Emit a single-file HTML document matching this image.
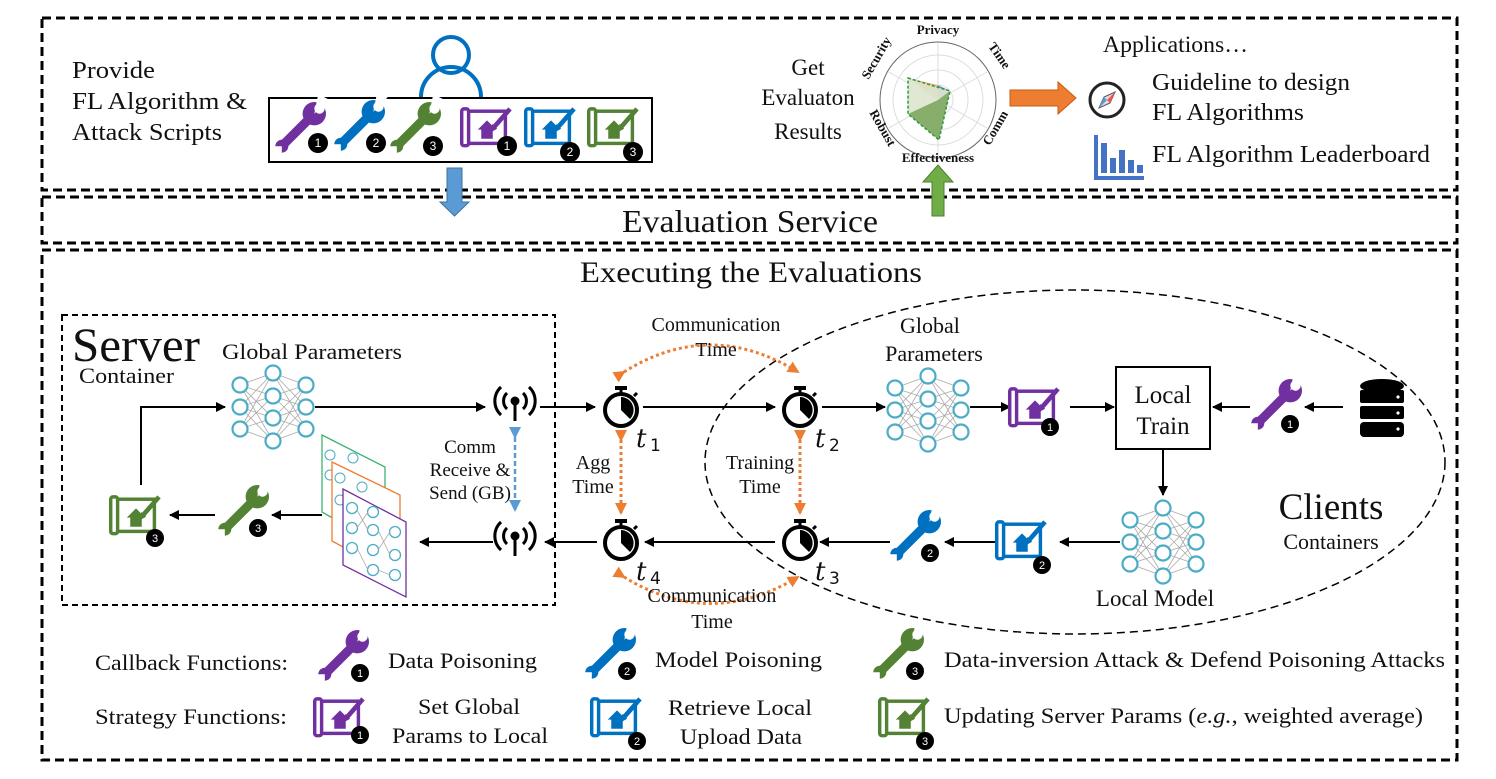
<!DOCTYPE html>
<html><head><meta charset="utf-8"><style>
html,body{margin:0;padding:0;background:#fff}
svg{display:block}
text{font-family:"Liberation Serif",serif;fill:#111}
</style></head><body>
<svg width="1496" height="779" viewBox="0 0 1496 779" xmlns="http://www.w3.org/2000/svg">
<defs>
<marker id="ah" markerWidth="10" markerHeight="10" refX="9" refY="5" orient="auto" markerUnits="userSpaceOnUse"><path d="M0,0 L10,5 L0,10 Z" fill="#000"/></marker>
<marker id="oh" markerWidth="12" markerHeight="12" refX="10" refY="6" orient="auto" markerUnits="userSpaceOnUse"><path d="M0,0 L12,6 L0,12 Z" fill="#ed7d31"/></marker>
<marker id="bh" markerWidth="12" markerHeight="12" refX="10" refY="6" orient="auto" markerUnits="userSpaceOnUse"><path d="M0,0 L12,6 L0,12 Z" fill="#5b9bd5"/></marker>
<g id="wrench0">
<line x1="-14" y1="14" x2="8" y2="-8" stroke="currentColor" stroke-width="7" stroke-linecap="round"/>
<circle cx="-14" cy="14" r="5" fill="currentColor"/>
<circle cx="11" cy="-11" r="9" fill="currentColor"/>
<path d="M11,-11 L22,-22 L14,-26 Z" fill="#fff"/>
<circle cx="15" cy="-15" r="4" fill="#fff"/>
<path d="M-22,14 L-14,14 L-14,22 Z" fill="#fff"/>
</g>
<g id="wrench"><use href="#wrench0" transform="scale(1.3)"/></g>
<g id="bp0" fill="none" stroke="currentColor">
<rect x="-18" y="-12" width="34" height="28" stroke-width="3"/>
<rect x="-22" y="-14" width="6" height="32" rx="2" stroke-width="3" fill="#fff"/>
<path d="M-8,4 L0,-4 L8,4 L5,4 L5,12 L-5,12 L-5,4 Z" fill="currentColor" stroke="none"/>
<line x1="6" y1="2" x2="20" y2="-14" stroke-width="4"/>
<path d="M3,6 L5,0 L8,3 Z" fill="currentColor"/>
</g>
<g id="bp"><use href="#bp0" transform="scale(1.15)"/></g>
<g id="nn">
<g stroke="#aaa" stroke-width="0.8">
<path d="M-33,-22 L0,-34 M-33,-22 L0,-11 M-33,-22 L0,11 M-33,-22 L0,34 M-33,0 L0,-34 M-33,0 L0,-11 M-33,0 L0,11 M-33,0 L0,34 M-33,22 L0,-34 M-33,22 L0,-11 M-33,22 L0,11 M-33,22 L0,34 M33,-22 L0,-34 M33,-22 L0,-11 M33,-22 L0,11 M33,-22 L0,34 M33,0 L0,-34 M33,0 L0,-11 M33,0 L0,11 M33,0 L0,34 M33,22 L0,-34 M33,22 L0,-11 M33,22 L0,11 M33,22 L0,34"/>
</g>
<g fill="#fff" stroke="#4bacc6" stroke-width="2.2">
<circle cx="-33" cy="-22" r="7.5"/><circle cx="-33" cy="0" r="7.5"/><circle cx="-33" cy="22" r="7.5"/>
<circle cx="33" cy="-22" r="7.5"/><circle cx="33" cy="0" r="7.5"/><circle cx="33" cy="22" r="7.5"/>
<circle cx="0" cy="-34" r="7.5"/><circle cx="0" cy="-11" r="7.5"/><circle cx="0" cy="11" r="7.5"/><circle cx="0" cy="34" r="7.5"/>
</g>
</g>
<g id="timer">
<rect x="-6" y="-24" width="12" height="4" fill="#000"/>
<line x1="0" y1="-20" x2="0" y2="-16" stroke="#000" stroke-width="3"/>
<line x1="13" y1="-14" x2="16" y2="-17" stroke="#000" stroke-width="3"/>
<circle cx="0" cy="0" r="16" fill="#fff" stroke="#000" stroke-width="4"/>
<path d="M0,0 L0,-13 A13,13 0 0 1 9,9 Z" fill="#000"/>
</g>
<g id="ant" fill="none" stroke="#000" stroke-width="3">
<circle cx="0" cy="-4" r="3" fill="#000"/>
<line x1="0" y1="-4" x2="0" y2="16"/>
<path d="M-8,-12 A11,11 0 0 0 -8,4 M8,-12 A11,11 0 0 1 8,4 M-14,-18 A19,19 0 0 0 -14,10 M14,-18 A19,19 0 0 1 14,10"/>
</g>
</defs>

<g fill="none" stroke="#000" stroke-width="3" stroke-dasharray="9,5">
<rect x="42" y="18" width="1415" height="172"/>
<rect x="42" y="197" width="1415" height="46"/>
<rect x="42" y="250" width="1415" height="510"/>
</g>

<text x="72" y="78" font-size="24" textLength="83" lengthAdjust="spacingAndGlyphs">Provide</text>
<text x="72" y="109" font-size="24" textLength="175" lengthAdjust="spacingAndGlyphs">FL Algorithm &amp;</text>
<text x="72" y="140" font-size="24" textLength="150" lengthAdjust="spacingAndGlyphs">Attack Scripts</text>
<circle cx="451" cy="55" r="18" fill="none" stroke="#0070c0" stroke-width="4"/>
<path d="M421,97 A30,30 0 0 1 481,97" fill="none" stroke="#0070c0" stroke-width="4"/>
<rect x="269" y="98" width="383" height="64" fill="#fff" stroke="#000" stroke-width="2"/>
<use href="#wrench" x="300" y="128" style="color:#7030a0"/>
<use href="#wrench" x="359" y="126" style="color:#0070c0"/>
<use href="#wrench" x="415" y="128" style="color:#548235"/>
<use href="#bp" x="487" y="125" style="color:#7030a0"/>
<use href="#bp" x="551" y="125" style="color:#0070c0"/>
<use href="#bp" x="614" y="125" style="color:#548235"/>
<g>
<circle cx="318" cy="143" r="10"/><circle cx="376" cy="143" r="10"/><circle cx="433" cy="146" r="10"/>
<circle cx="507" cy="146" r="10"/><circle cx="570" cy="152" r="10"/><circle cx="633" cy="152" r="10"/>
</g>
<g font-size="12" text-anchor="middle">
<text x="318" y="147" style="fill:#fff;font-family:'Liberation Sans',sans-serif">1</text>
<text x="376" y="147" style="fill:#fff;font-family:'Liberation Sans',sans-serif">2</text>
<text x="433" y="150" style="fill:#fff;font-family:'Liberation Sans',sans-serif">3</text>
<text x="507" y="150" style="fill:#fff;font-family:'Liberation Sans',sans-serif">1</text>
<text x="570" y="156" style="fill:#fff;font-family:'Liberation Sans',sans-serif">2</text>
<text x="633" y="156" style="fill:#fff;font-family:'Liberation Sans',sans-serif">3</text>
</g>
<path d="M447,168 L462,168 L462,202 L469,202 L454.5,216 L440,202 L447,202 Z" fill="#5b9bd5" stroke="#41719c" stroke-width="1"/>

<text x="808" y="75" font-size="23" text-anchor="middle">Get</text>
<text x="808" y="105" font-size="23" text-anchor="middle">Evaluaton</text>
<text x="808" y="139" font-size="23" text-anchor="middle">Results</text>
<g fill="none" stroke="#ddd" stroke-width="1">
<circle cx="938" cy="100" r="15"/><circle cx="938" cy="100" r="30"/><circle cx="938" cy="100" r="45"/>
<path d="M938,100 L938,43 M938,100 L987,72 M938,100 L987,128 M938,100 L938,157 M938,100 L889,128 M938,100 L889,72"/>
</g>
<circle cx="938" cy="100" r="58" fill="none" stroke="#666" stroke-width="1"/>
<path d="M908,78 L938,85 L938,100 Z" fill="#f4b183"/>
<path d="M938,85 L950,91 L938,100 Z" fill="#7f8fd0"/>
<path d="M908,78 L950,91 L939,140 L908,114 Z" fill="#dde5cf" opacity="0.9"/>
<path d="M938,100 L908,114 L939,140 L950,91 Z" fill="#70a050" opacity="0.8"/>
<path d="M908,78 L950,91 L939,140 L908,114 Z" fill="none" stroke="#2a9a3a" stroke-width="1.5" stroke-dasharray="3,2"/>
<text x="938" y="34" font-size="13" font-weight="bold" text-anchor="middle">Privacy</text>
<text x="938" y="162" font-size="13" font-weight="bold" text-anchor="middle">Effectiveness</text>
<text x="0" y="0" font-size="13" font-weight="bold" text-anchor="middle" transform="translate(996,58) rotate(55)">Time</text>
<text x="0" y="0" font-size="13" font-weight="bold" text-anchor="middle" transform="translate(999,130) rotate(-60)">Comm</text>
<text x="0" y="0" font-size="13" font-weight="bold" text-anchor="middle" transform="translate(880,60) rotate(-60)">Security</text>
<text x="0" y="0" font-size="13" font-weight="bold" text-anchor="middle" transform="translate(879,130) rotate(60)">Robust</text>
<path d="M1010,90 L1058,90 L1058,82 L1076,98 L1058,114 L1058,106 L1010,106 Z" fill="#ed7d31" stroke="#c55a11" stroke-width="1"/>
<path d="M932,216 L944,216 L944,182 L953,182 L938,165 L923,182 L932,182 Z" fill="#70ad47" stroke="#507e32" stroke-width="1"/>

<text x="1103" y="52" font-size="23" textLength="145" lengthAdjust="spacingAndGlyphs">Applications…</text>
<circle cx="1107" cy="100" r="17" fill="#fff" stroke="#222" stroke-width="3"/>
<path d="M1099,108 L1104,97 L1115,92 L1110,103 Z" fill="#ddd" stroke="#555"/>
<path d="M1107,100 L1115,92 L1110,103 Z" fill="#ff5050"/>
<path d="M1107,100 L1099,108 L1104,97 Z" fill="#5b9bd5"/>
<text x="1152" y="90" font-size="24" textLength="198" lengthAdjust="spacingAndGlyphs">Guideline to design</text>
<text x="1152" y="120" font-size="24" textLength="152" lengthAdjust="spacingAndGlyphs">FL Algorithms</text>
<g fill="#4472c4">
<rect x="1094" y="135" width="4" height="45"/><rect x="1094" y="176" width="50" height="4"/>
<rect x="1101" y="143" width="6" height="30"/><rect x="1110" y="158" width="6" height="15"/>
<rect x="1119" y="150" width="6" height="23"/><rect x="1128" y="160" width="6" height="13"/>
<rect x="1137" y="165" width="6" height="8"/>
</g>
<text x="1152" y="162" font-size="24" textLength="278" lengthAdjust="spacingAndGlyphs">FL Algorithm Leaderboard</text>

<text x="622" y="232" font-size="32" textLength="256" lengthAdjust="spacingAndGlyphs">Evaluation Service</text>
<text x="580" y="282" font-size="30" textLength="342" lengthAdjust="spacingAndGlyphs">Executing the Evaluations</text>

<rect x="62" y="315" width="493" height="290" fill="none" stroke="#000" stroke-width="2" stroke-dasharray="6,4"/>
<text x="72" y="361" font-size="48" textLength="128" lengthAdjust="spacingAndGlyphs">Server</text>
<text x="79" y="383" font-size="22" textLength="95" lengthAdjust="spacingAndGlyphs">Container</text>
<text x="222" y="359" font-size="22" textLength="180" lengthAdjust="spacingAndGlyphs">Global Parameters</text>
<use href="#nn" x="273" y="407"/>
<g stroke="#000" stroke-width="2" fill="none" marker-end="url(#ah)">
<path d="M141,485 L141,407 L225,407"/>
<line x1="315" y1="407" x2="485" y2="407"/>
<line x1="540" y1="407" x2="595" y2="407"/>
<line x1="643" y1="407" x2="775" y2="407"/>
<line x1="822" y1="407" x2="885" y2="407"/>
<line x1="970" y1="407" x2="1010" y2="407"/>
<line x1="1070" y1="407" x2="1114" y2="407"/>
<line x1="1250" y1="407" x2="1213" y2="407"/>
<line x1="1343" y1="407" x2="1305" y2="407"/>
<line x1="1163" y1="449" x2="1163" y2="495"/>
<line x1="1120" y1="542" x2="1060" y2="542"/>
<line x1="995" y1="542" x2="945" y2="542"/>
<line x1="890" y1="542" x2="820" y2="542"/>
<line x1="775" y1="542" x2="645" y2="542"/>
<line x1="597" y1="542" x2="545" y2="542"/>
<line x1="493" y1="542" x2="420" y2="542"/>
<line x1="322" y1="515" x2="272" y2="515"/>
<line x1="215" y1="515" x2="170" y2="515"/>
</g>
<use href="#ant" x="515" y="405"/>
<use href="#ant" x="515" y="540"/>
<line x1="515" y1="437" x2="515" y2="510" stroke="#5b9bd5" stroke-width="2.5" stroke-dasharray="5,3" marker-end="url(#bh)" marker-start="url(#bh)"/>
<text x="470" y="453" font-size="19" text-anchor="middle">Comm</text>
<text x="470" y="476" font-size="19" text-anchor="middle">Receive &amp;</text>
<text x="470" y="499" font-size="19" text-anchor="middle">Send (GB)</text>
<g>
<path d="M322,435 L385,467 L385,548 L322,512 Z" fill="#fff" stroke="#3cb371" stroke-width="1.3"/>
<circle cx="330" cy="455" r="5" fill="none" stroke="#4bacc6"/><circle cx="353" cy="458" r="5" fill="none" stroke="#4bacc6"/><circle cx="330" cy="475" r="5" fill="none" stroke="#4bacc6"/>
<path d="M332,462 L400,495 L400,578 L332,541 Z" fill="#fff" stroke="#ed7d31" stroke-width="1.3"/>
<circle cx="340" cy="478" r="5" fill="none" stroke="#4bacc6"/><circle cx="362" cy="487" r="5" fill="none" stroke="#4bacc6"/><circle cx="340" cy="500" r="5" fill="none" stroke="#4bacc6"/>
<path d="M343,489 L406,522 L406,597 L343,565 Z" fill="#fff" stroke="#7030a0" stroke-width="1.3"/>
<g fill="none" stroke="#4bacc6" stroke-width="1.3">
<circle cx="352" cy="508" r="5.5"/><circle cx="352" cy="528" r="5.5"/><circle cx="352" cy="548" r="5.5"/>
<circle cx="373" cy="512" r="5.5"/><circle cx="373" cy="530" r="5.5"/><circle cx="373" cy="550" r="5.5"/><circle cx="373" cy="570" r="5.5"/>
<circle cx="395" cy="532" r="5.5"/><circle cx="395" cy="555" r="5.5"/><circle cx="395" cy="575" r="5.5"/>
</g>
<path d="M357,510 L368,530 M357,528 L368,512 M357,548 L368,570 M378,530 L390,555 M378,550 L390,532 M378,570 L390,575" stroke="#aaa" stroke-width="0.8"/>
</g>
<use href="#wrench" x="243" y="511" style="color:#548235"/>
<use href="#bp" x="136" y="513" style="color:#548235"/>

<ellipse cx="1075" cy="462" rx="370" ry="172" fill="none" stroke="#000" stroke-width="1.5" stroke-dasharray="8,5"/>

<use href="#timer" x="621" y="410"/>
<use href="#timer" x="800" y="410"/>
<use href="#timer" x="621" y="543"/>
<use href="#timer" x="800" y="543"/>
<g font-style="italic" font-size="26">
<text x="636" y="447" style="font-family:'DejaVu Serif',serif">t</text><text x="650" y="451" font-size="17" style="font-family:'DejaVu Sans',sans-serif;font-style:normal">1</text>
<text x="815" y="447" style="font-family:'DejaVu Serif',serif">t</text><text x="829" y="451" font-size="17" style="font-family:'DejaVu Sans',sans-serif;font-style:normal">2</text>
<text x="636" y="580" style="font-family:'DejaVu Serif',serif">t</text><text x="650" y="584" font-size="17" style="font-family:'DejaVu Sans',sans-serif;font-style:normal">4</text>
<text x="815" y="580" style="font-family:'DejaVu Serif',serif">t</text><text x="829" y="584" font-size="17" style="font-family:'DejaVu Sans',sans-serif;font-style:normal">3</text>
</g>
<g stroke="#ed7d31" stroke-width="3" stroke-dasharray="3,3" fill="none">
<path d="M624,372 Q710,318 798,372" marker-end="url(#oh)" marker-start="url(#oh)"/>
<line x1="621" y1="440" x2="621" y2="513" marker-end="url(#oh)" marker-start="url(#oh)"/>
<line x1="800" y1="440" x2="800" y2="513" marker-end="url(#oh)" marker-start="url(#oh)"/>
<path d="M624,577 Q710,630 798,577" marker-end="url(#oh)" marker-start="url(#oh)"/>
</g>
<text x="716" y="331" font-size="20" text-anchor="middle">Communication</text>
<text x="716" y="356" font-size="20" text-anchor="middle">Time</text>
<text x="593" y="469" font-size="20" text-anchor="middle">Agg</text>
<text x="593" y="493" font-size="20" text-anchor="middle">Time</text>
<text x="760" y="469" font-size="20" text-anchor="middle">Training</text>
<text x="760" y="493" font-size="20" text-anchor="middle">Time</text>
<text x="712" y="602" font-size="20" text-anchor="middle">Communication</text>
<text x="712" y="628" font-size="20" text-anchor="middle">Time</text>

<text x="930" y="333" font-size="22" text-anchor="middle">Global</text>
<text x="934" y="361" font-size="22" text-anchor="middle">Parameters</text>
<use href="#nn" x="928" y="410"/>
<use href="#bp" x="1035" y="405" style="color:#7030a0"/>
<rect x="1116" y="367" width="94" height="82" fill="#fff" stroke="#000" stroke-width="2"/>
<text x="1163" y="403" font-size="25" text-anchor="middle">Local</text>
<text x="1163" y="434" font-size="25" text-anchor="middle">Train</text>
<use href="#wrench" x="1276" y="405" style="color:#7030a0"/>
<g fill="#000">
<ellipse cx="1382" cy="386" rx="22" ry="7"/>
<rect x="1360" y="390" width="44" height="13" rx="2"/>
<rect x="1360" y="406" width="44" height="13" rx="2"/>
<rect x="1360" y="422" width="44" height="15" rx="4"/>
</g>
<g fill="#fff"><circle cx="1398" cy="397" r="1.6"/><circle cx="1398" cy="413" r="1.6"/><circle cx="1398" cy="429" r="1.6"/></g>
<use href="#nn" x="1163" y="542"/>
<text x="1155" y="606" font-size="23" text-anchor="middle">Local Model</text>
<use href="#bp" x="1022" y="538" style="color:#0070c0"/>
<use href="#wrench" x="915" y="536" style="color:#0070c0"/>
<text x="1331" y="519" font-size="37" text-anchor="middle">Clients</text>
<text x="1331" y="549" font-size="22" text-anchor="middle">Containers</text>

<text x="95" y="670" font-size="22" textLength="193" lengthAdjust="spacingAndGlyphs">Callback Functions:</text>
<text x="95" y="724" font-size="22" textLength="192" lengthAdjust="spacingAndGlyphs">Strategy Functions:</text>
<use href="#wrench" x="343" y="656" style="color:#7030a0"/>
<use href="#wrench" x="610" y="654" style="color:#0070c0"/>
<use href="#wrench" x="898" y="654" style="color:#548235"/>
<text x="388" y="668" font-size="22" textLength="149" lengthAdjust="spacingAndGlyphs">Data Poisoning</text>
<text x="655" y="667" font-size="22" textLength="167" lengthAdjust="spacingAndGlyphs">Model Poisoning</text>
<text x="944" y="667" font-size="22" textLength="501" lengthAdjust="spacingAndGlyphs">Data-inversion Attack &amp; Defend Poisoning Attacks</text>
<use href="#bp" x="340" y="715" style="color:#7030a0"/>
<use href="#bp" x="617" y="715" style="color:#0070c0"/>
<use href="#bp" x="905" y="715" style="color:#548235"/>
<text x="418" y="714" font-size="22" textLength="102" lengthAdjust="spacingAndGlyphs">Set Global</text>
<text x="392" y="743" font-size="22" textLength="156" lengthAdjust="spacingAndGlyphs">Params to Local</text>
<text x="668" y="715" font-size="22" textLength="144" lengthAdjust="spacingAndGlyphs">Retrieve Local</text>
<text x="680" y="744" font-size="22" textLength="122" lengthAdjust="spacingAndGlyphs">Upload Data</text>
<text x="944" y="723" font-size="22" textLength="479" lengthAdjust="spacingAndGlyphs">Updating Server Params (<tspan font-style="italic">e.g.</tspan>, weighted average)</text>

<g>
<circle cx="155" cy="538" r="9"/><circle cx="258" cy="528" r="9"/>
<circle cx="1290" cy="424" r="9"/><circle cx="1050" cy="427" r="9"/>
<circle cx="1042" cy="565" r="9"/><circle cx="930" cy="553" r="9"/>
<circle cx="360" cy="673" r="9"/><circle cx="627" cy="671" r="9"/><circle cx="915" cy="671" r="9"/>
<circle cx="360" cy="735" r="9"/><circle cx="637" cy="741" r="9"/><circle cx="925" cy="741" r="9"/>
</g>
<g font-size="11" text-anchor="middle">
<text x="155" y="542" style="fill:#fff;font-family:'Liberation Sans',sans-serif">3</text>
<text x="258" y="532" style="fill:#fff;font-family:'Liberation Sans',sans-serif">3</text>
<text x="1290" y="428" style="fill:#fff;font-family:'Liberation Sans',sans-serif">1</text>
<text x="1050" y="431" style="fill:#fff;font-family:'Liberation Sans',sans-serif">1</text>
<text x="1042" y="569" style="fill:#fff;font-family:'Liberation Sans',sans-serif">2</text>
<text x="930" y="557" style="fill:#fff;font-family:'Liberation Sans',sans-serif">2</text>
<text x="360" y="677" style="fill:#fff;font-family:'Liberation Sans',sans-serif">1</text>
<text x="627" y="675" style="fill:#fff;font-family:'Liberation Sans',sans-serif">2</text>
<text x="915" y="675" style="fill:#fff;font-family:'Liberation Sans',sans-serif">3</text>
<text x="360" y="739" style="fill:#fff;font-family:'Liberation Sans',sans-serif">1</text>
<text x="637" y="745" style="fill:#fff;font-family:'Liberation Sans',sans-serif">2</text>
<text x="925" y="745" style="fill:#fff;font-family:'Liberation Sans',sans-serif">3</text>
</g>
</svg>
</body></html>
